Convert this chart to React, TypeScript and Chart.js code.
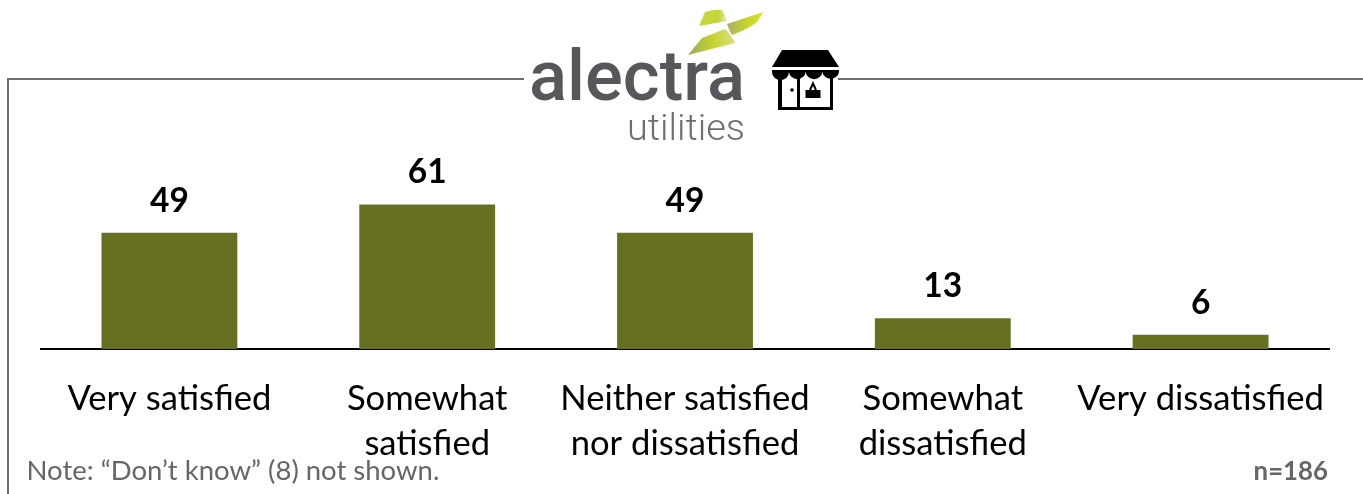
import React, { useEffect, useRef } from "react";
import { Chart, registerables } from "chart.js";

Chart.register(...registerables);

const categories: string[][] = [
  ["Very satisfied"],
  ["Somewhat", "satisfied"],
  ["Neither satisfied", "nor dissatisfied"],
  ["Somewhat", "dissatisfied"],
  ["Very dissatisfied"],
];
const values: number[] = [49, 61, 49, 13, 6];
const noteText = "Note: \u201CDon\u2019t know\u201D (8) not shown.";
const baseText = "n=186";

const FONT = "Lato, 'Open Sans', sans-serif";

const decorations = {
  id: "decorations",
  afterDraw(chart: any) {
    const ctx = chart.ctx;
    ctx.save();
    // frame
    ctx.strokeStyle = "#6f6f6f";
    ctx.lineWidth = 2;
    ctx.beginPath();
    ctx.moveTo(524, 79);
    ctx.lineTo(8, 79);
    ctx.lineTo(8, 494);
    ctx.moveTo(838, 79);
    ctx.lineTo(1363, 79);
    ctx.stroke();
    // value labels
    const meta = chart.getDatasetMeta(0);
    ctx.fillStyle = "#000";
    ctx.font = `bold 33.5px ${FONT}`;
    ctx.textAlign = "center";
    ctx.textBaseline = "alphabetic";
    meta.data.forEach((bar: any, i: number) => {
      ctx.fillText(String(values[i]), bar.x, bar.y - 21);
    });
    // footnotes
    ctx.fillStyle = "#666666";
    ctx.font = `27.5px ${FONT}`;
    ctx.textAlign = "left";
    ctx.fillText(noteText, 26.5, 480);
    ctx.font = `bold 25.8px ${FONT}`;
    ctx.textAlign = "right";
    ctx.fillText(baseText, 1328, 480);
    ctx.restore();
  },
};

export default function App() {
  const ref = useRef<HTMLCanvasElement>(null);
  useEffect(() => {
    document.body.style.margin = "0";
    const chart = new Chart(ref.current!, {
      type: "bar",
      data: {
        labels: categories,
        datasets: [
          {
            data: values,
            backgroundColor: "#667020",
            barPercentage: 0.527,
            categoryPercentage: 1,
          },
        ],
      },
      options: {
        animation: false,
        responsive: false,
        layout: { padding: { left: 40.5, right: 33.5, top: 159.4, bottom: 0 } },
        plugins: { legend: { display: false }, tooltip: { enabled: false } },
        scales: {
          x: {
            afterFit: (s: any) => {
              s.height = 145;
            },
            grid: { display: false, drawTicks: false },
            border: { display: true, color: "#000", width: 2 },
            ticks: {
              color: "#000",
              padding: 27,
              maxRotation: 0,
              minRotation: 0,
              autoSkip: false,
              font: { family: FONT, size: 34.6, lineHeight: 1.3 },
            },
          },
          y: { display: false, min: 0, max: 80 },
        },
      },
      plugins: [decorations],
    } as any);
    return () => chart.destroy();
  }, []);

  return (
    <div style={{ position: "relative", width: 1363, height: 494, overflow: "hidden" }}>
      <canvas ref={ref} width={1363} height={494} style={{ display: "block" }} />
      <svg width={1363} height={494} style={{ position: "absolute", left: 0, top: 0 }}>
        <defs>
          <linearGradient id="upper" x1="0" y1="0" x2="1" y2="0">
            <stop offset="0" stopColor="#c9d93a" />
            <stop offset="0.7" stopColor="#c5d43c" />
            <stop offset="1" stopColor="#e6ebb0" />
          </linearGradient>
          <linearGradient id="strip" x1="0" y1="0" x2="1" y2="0">
            <stop offset="0" stopColor="#a9ae6a" />
            <stop offset="0.5" stopColor="#c4d12f" />
            <stop offset="1" stopColor="#dbe41f" />
          </linearGradient>
          <linearGradient id="lower" x1="0" y1="0" x2="1" y2="0">
            <stop offset="0" stopColor="#9ba85a" />
            <stop offset="0.55" stopColor="#c6d532" />
            <stop offset="1" stopColor="#d9df80" />
          </linearGradient>
        </defs>
        <path d="M699 26 L705 12 Q715 9 722 10 Q725 15 727 21 Z" fill="url(#upper)" />
        <path d="M727 24 L763 12 L757 22 Q748 29 732 35 Q729 30 727 24 Z" fill="url(#strip)" />
        <path d="M688 55 L702 38 L725 29 Q730 33 735 43 Z" fill="url(#lower)" />
        <text x={529} y={100} fontFamily="Roboto" fontWeight={500} fontSize={70} fill="#55575a" textLength={216} lengthAdjust="spacingAndGlyphs">alectra</text>
        <text x={627} y={140} fontFamily="Roboto" fontWeight={300} fontSize={37} fill="#6d6f72" textLength={118} lengthAdjust="spacingAndGlyphs">utilities</text>
        {/* storefront icon */}
        <path d="M782 50 H828 L839 67 H772 Z" fill="#000" />
        <path d="M778 72 H833 V110 H778 Z" fill="#000" />
        <path d="M782 72 H797 V107 H782 Z M800 72 H830 V107 H800 Z" fill="#fff" />
        <path d="M772 70 H839 V72 A8.4 8 0 0 1 822.4 72 A8.4 8 0 0 1 805.7 72 A8.4 8 0 0 1 789 72 A8.4 8 0 0 1 772 72 Z" fill="#000" />
        <circle cx={792} cy={90} r={1.8} fill="#000" />
        <path d="M805.5 90 H820.5 V98 H805.5 Z" fill="#000" />
        <path d="M810 90 L813 83.5 L816 90" fill="none" stroke="#000" strokeWidth={2} />
      </svg>
    </div>
  );
}
